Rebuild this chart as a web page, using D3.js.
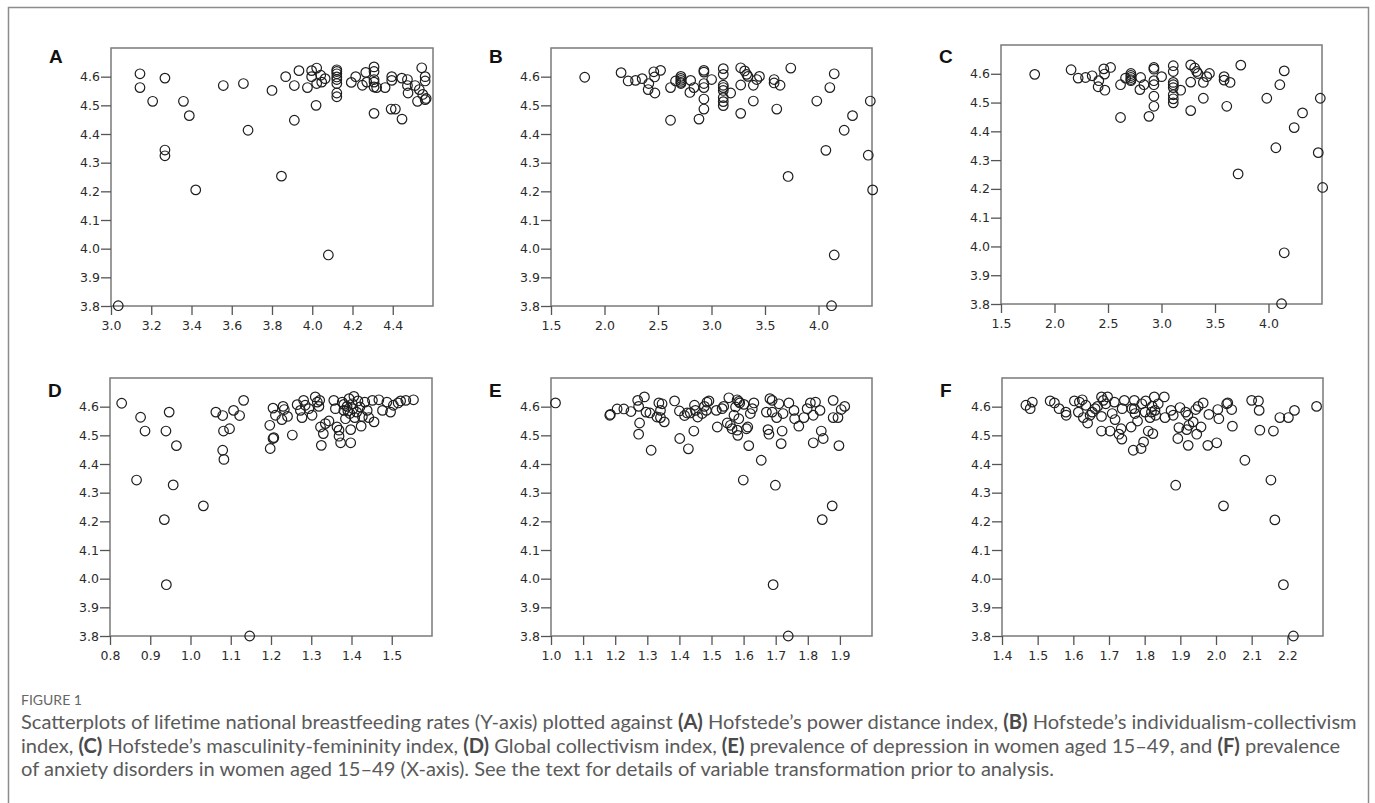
<!DOCTYPE html>
<html>
<head>
<meta charset="utf-8">
<script src="https://cdn.jsdelivr.net/npm/d3@7"></script>
<style>
  body { margin: 0; background: #fff; }
  svg { display: block; }
</style>
</head>
<body>
<script>
// y axis is shared by all six panels (lifetime breastfeeding rate, transformed)
var yDomain = [3.8, 4.7];
var yTicks = [3.8, 3.9, 4.0, 4.1, 4.2, 4.3, 4.4, 4.5, 4.6];

// A: power distance index
var aDomain = [3.0, 4.6];
var aTicks = [3.0, 3.2, 3.4, 3.6, 3.8, 4.0, 4.2, 4.4];
var aX = [3.036, 3.144, 3.144, 3.207, 3.268, 3.268, 3.268, 3.360, 3.389, 3.421,
  3.558, 3.658, 3.681, 3.800, 3.847, 3.868, 3.911, 3.911, 3.934, 3.976,
  3.997, 3.997, 4.022, 4.022, 4.019, 4.042, 4.047, 4.064, 4.080,
  4.122, 4.122, 4.122, 4.122, 4.122, 4.122, 4.122, 4.122,
  4.194, 4.216, 4.249, 4.266, 4.271,
  4.307, 4.307, 4.307, 4.307, 4.307, 4.307,
  4.320, 4.362, 4.395, 4.395, 4.392, 4.413, 4.445, 4.446, 4.473, 4.473,
  4.476, 4.511, 4.523, 4.532, 4.544, 4.549, 4.561, 4.561, 4.561, 4.566];
var aY = [3.801, 4.610, 4.562, 4.514, 4.595, 4.344, 4.324, 4.514, 4.464, 4.205,
  4.569, 4.576, 4.413, 4.552, 4.253, 4.600, 4.569, 4.448, 4.621, 4.562,
  4.621, 4.600, 4.630, 4.576, 4.500, 4.605, 4.581, 4.593, 3.978,
  4.624, 4.618, 4.610, 4.599, 4.590, 4.576, 4.543, 4.530,
  4.580, 4.600, 4.570, 4.615, 4.581,
  4.634, 4.618, 4.590, 4.581, 4.564, 4.472,
  4.562, 4.562, 4.600, 4.587, 4.487, 4.487, 4.595, 4.452, 4.590, 4.569,
  4.543, 4.569, 4.514, 4.555, 4.631, 4.538, 4.600, 4.585, 4.520, 4.524];

// B: individualism-collectivism index
var bDomain = [1.5, 4.5];
var bTicks = [1.5, 2.0, 2.5, 3.0, 3.5, 4.0];
var bX = [1.815, 2.155, 2.221, 2.290, 2.352, 2.408, 2.414, 2.461, 2.468, 2.471,
  2.524, 2.617, 2.617, 2.664, 2.714, 2.714, 2.714, 2.714, 2.714, 2.805,
  2.798, 2.836, 2.883, 2.929, 2.929, 2.929, 2.929, 2.929, 2.929, 3.001,
  3.110, 3.110, 3.110, 3.110, 3.110, 3.110, 3.110, 3.110,
  3.179, 3.273, 3.273, 3.273, 3.310, 3.329, 3.341, 3.391, 3.391, 3.423,
  3.448, 3.585, 3.585, 3.641, 3.610, 3.741, 3.716, 3.984, 4.069, 4.106,
  4.147, 4.147, 4.122, 4.240, 4.318, 4.465, 4.484, 4.506];
var bY = [4.598, 4.614, 4.585, 4.587, 4.593, 4.555, 4.576, 4.617, 4.599, 4.543,
  4.622, 4.562, 4.448, 4.585, 4.601, 4.594, 4.587, 4.580, 4.576, 4.587,
  4.545, 4.562, 4.452, 4.622, 4.616, 4.576, 4.562, 4.522, 4.487, 4.590,
  4.628, 4.608, 4.570, 4.562, 4.552, 4.527, 4.513, 4.499,
  4.543, 4.631, 4.571, 4.472, 4.620, 4.608, 4.601, 4.570, 4.515, 4.590,
  4.601, 4.590, 4.578, 4.570, 4.487, 4.630, 4.252, 4.515, 4.343, 4.562,
  4.610, 3.978, 3.801, 4.413, 4.464, 4.326, 4.515, 4.205];

// C: masculinity-femininity index
var cDomain = [1.5, 4.5];
var cTicks = [1.5, 2.0, 2.5, 3.0, 3.5, 4.0];
var cX = [1.815, 2.155, 2.221, 2.290, 2.352, 2.408, 2.414, 2.461, 2.468, 2.471,
  2.524, 2.617, 2.617, 2.664, 2.714, 2.714, 2.714, 2.714, 2.714, 2.805,
  2.798, 2.836, 2.883, 2.929, 2.929, 2.929, 2.929, 2.929, 2.929, 3.001,
  3.110, 3.110, 3.110, 3.110, 3.110, 3.110, 3.110, 3.110,
  3.179, 3.273, 3.273, 3.273, 3.310, 3.329, 3.341, 3.391, 3.391, 3.423,
  3.448, 3.585, 3.585, 3.641, 3.610, 3.741, 3.716, 3.984, 4.069, 4.106,
  4.147, 4.147, 4.122, 4.240, 4.318, 4.465, 4.484, 4.506];
var cY = [4.598, 4.614, 4.585, 4.587, 4.593, 4.555, 4.576, 4.617, 4.599, 4.543,
  4.622, 4.562, 4.448, 4.585, 4.601, 4.594, 4.587, 4.580, 4.576, 4.587,
  4.545, 4.562, 4.452, 4.622, 4.616, 4.576, 4.562, 4.522, 4.487, 4.590,
  4.628, 4.608, 4.570, 4.562, 4.552, 4.527, 4.513, 4.499,
  4.543, 4.631, 4.571, 4.472, 4.620, 4.608, 4.601, 4.570, 4.515, 4.590,
  4.601, 4.590, 4.578, 4.570, 4.487, 4.630, 4.252, 4.515, 4.343, 4.562,
  4.610, 3.978, 3.801, 4.413, 4.464, 4.326, 4.515, 4.205];

// D: global collectivism index
var dDomain = [0.8, 1.6];
var dTicks = [0.8, 0.9, 1.0, 1.1, 1.2, 1.3, 1.4, 1.5];
var dX = [0.829, 0.866, 0.876, 0.887, 0.935, 0.939, 0.947, 0.940, 0.957, 0.965,
  1.032, 1.063, 1.080, 1.082, 1.080, 1.083, 1.097, 1.107, 1.122, 1.132,
  1.147, 1.197, 1.198, 1.205, 1.207, 1.205, 1.211, 1.227, 1.230, 1.233,
  1.241, 1.253, 1.265, 1.273, 1.277, 1.281, 1.285, 1.294, 1.302, 1.310,
  1.315, 1.319, 1.321, 1.323, 1.325, 1.330, 1.335, 1.344, 1.356, 1.360,
  1.364, 1.369, 1.369, 1.373, 1.377, 1.381, 1.385, 1.389, 1.394, 1.396,
  1.398, 1.398, 1.402, 1.404, 1.406, 1.408, 1.413, 1.416, 1.421, 1.424,
  1.427, 1.433, 1.439, 1.443, 1.452, 1.456, 1.468, 1.477, 1.488, 1.497,
  1.504, 1.516, 1.522, 1.535, 1.554, 1.381, 1.391];
var dY = [4.612, 4.344, 4.563, 4.515, 4.206, 4.515, 4.581, 3.979, 4.327, 4.464,
  4.254, 4.581, 4.569, 4.515, 4.448, 4.416, 4.523, 4.587, 4.569, 4.622,
  3.800, 4.535, 4.454, 4.489, 4.492, 4.595, 4.570, 4.555, 4.601, 4.590,
  4.566, 4.501, 4.607, 4.587, 4.562, 4.622, 4.605, 4.593, 4.570, 4.634,
  4.616, 4.601, 4.622, 4.529, 4.465, 4.506, 4.541, 4.550, 4.622, 4.593,
  4.529, 4.518, 4.497, 4.474, 4.616, 4.587, 4.558, 4.601, 4.628, 4.576,
  4.520, 4.474, 4.610, 4.593, 4.636, 4.562, 4.581, 4.620, 4.599, 4.532,
  4.566, 4.616, 4.587, 4.562, 4.622, 4.547, 4.624, 4.587, 4.616, 4.581,
  4.605, 4.613, 4.620, 4.622, 4.624, 4.608, 4.585];

// E: depression prevalence, women 15-49
var eDomain = [1.0, 2.0];
var eTicks = [1.0, 1.1, 1.2, 1.3, 1.4, 1.5, 1.6, 1.7, 1.8, 1.9];
var eX = [1.014, 1.185, 1.183, 1.206, 1.227, 1.249, 1.270, 1.273, 1.276, 1.273,
  1.291, 1.296, 1.308, 1.312, 1.336, 1.341, 1.341, 1.346, 1.353, 1.385,
  1.400, 1.401, 1.416, 1.428, 1.434, 1.445, 1.447, 1.450, 1.457, 1.471,
  1.478, 1.484, 1.486, 1.492, 1.515, 1.518, 1.533, 1.538, 1.549, 1.554,
  1.559, 1.564, 1.570, 1.575, 1.580, 1.585, 1.588, 1.580, 1.582, 1.585,
  1.599, 1.601, 1.609, 1.613, 1.616, 1.621, 1.627, 1.632, 1.655, 1.671,
  1.676, 1.679, 1.682, 1.689, 1.699, 1.692, 1.703, 1.710, 1.717, 1.720,
  1.723, 1.739, 1.741, 1.757, 1.759, 1.772, 1.788, 1.798, 1.808, 1.817,
  1.817, 1.824, 1.838, 1.842, 1.848, 1.845, 1.876, 1.879, 1.879, 1.894,
  1.897, 1.904, 1.915, 1.689, 1.424, 1.330];
var eY = [4.613, 4.573, 4.570, 4.592, 4.592, 4.583, 4.622, 4.601, 4.543, 4.504,
  4.634, 4.581, 4.578, 4.448, 4.613, 4.587, 4.562, 4.610, 4.547, 4.620,
  4.585, 4.489, 4.569, 4.453, 4.578, 4.515, 4.605, 4.587, 4.564, 4.576,
  4.601, 4.587, 4.616, 4.620, 4.587, 4.529, 4.593, 4.601, 4.543, 4.631,
  4.535, 4.523, 4.570, 4.599, 4.624, 4.618, 4.613, 4.518, 4.500, 4.558,
  4.344, 4.608, 4.523, 4.529, 4.464, 4.576, 4.593, 4.613, 4.413, 4.581,
  4.520, 4.504, 4.628, 4.622, 4.326, 3.979, 4.562, 4.610, 4.471, 4.515,
  4.576, 3.800, 4.613, 4.587, 4.558, 4.532, 4.562, 4.593, 4.613, 4.570,
  4.474, 4.616, 4.587, 4.515, 4.489, 4.206, 4.254, 4.622, 4.562, 4.562,
  4.464, 4.590, 4.601, 4.581, 4.578, 4.564];

// F: anxiety disorder prevalence, women 15-49
var fDomain = [1.4, 2.3];
var fTicks = [1.4, 1.5, 1.6, 1.7, 1.8, 1.9, 2.0, 2.1, 2.2];
var fX = [1.467, 1.479, 1.485, 1.535, 1.547, 1.560, 1.579, 1.580, 1.603, 1.614,
  1.617, 1.625, 1.628, 1.635, 1.640, 1.647, 1.653, 1.661, 1.668, 1.679,
  1.679, 1.684, 1.691, 1.696, 1.679, 1.703, 1.709, 1.715, 1.717, 1.728,
  1.734, 1.736, 1.737, 1.743, 1.762, 1.764, 1.768, 1.771, 1.773, 1.780,
  1.790, 1.792, 1.797, 1.801, 1.803, 1.810, 1.815, 1.821, 1.823, 1.827,
  1.829, 1.831, 1.838, 1.855, 1.857, 1.874, 1.880, 1.887, 1.893, 1.896,
  1.899, 1.915, 1.918, 1.921, 1.922, 1.924, 1.936, 1.943, 1.946, 1.950,
  1.958, 1.964, 1.977, 1.980, 2.002, 2.005, 2.008, 2.021, 2.030, 2.033,
  2.044, 2.046, 2.081, 2.100, 2.119, 2.121, 2.123, 2.154, 2.161, 2.165,
  2.179, 2.189, 2.203, 2.217, 2.220, 2.282, 1.771, 1.819];
var fY = [4.605, 4.593, 4.616, 4.620, 4.613, 4.593, 4.581, 4.570, 4.620, 4.581,
  4.616, 4.624, 4.562, 4.605, 4.543, 4.570, 4.581, 4.593, 4.601, 4.634,
  4.566, 4.622, 4.610, 4.634, 4.515, 4.515, 4.576, 4.616, 4.555, 4.504,
  4.523, 4.487, 4.593, 4.622, 4.529, 4.593, 4.448, 4.622, 4.576, 4.550,
  4.454, 4.610, 4.477, 4.581, 4.620, 4.515, 4.562, 4.601, 4.506, 4.634,
  4.587, 4.570, 4.610, 4.634, 4.562, 4.587, 4.570, 4.326, 4.489, 4.527,
  4.597, 4.581, 4.520, 4.570, 4.465, 4.535, 4.547, 4.590, 4.504, 4.601,
  4.529, 4.613, 4.465, 4.573, 4.474, 4.590, 4.558, 4.254, 4.610, 4.613,
  4.590, 4.532, 4.413, 4.622, 4.620, 4.587, 4.518, 4.344, 4.515, 4.205,
  4.562, 3.979, 4.562, 3.800, 4.587, 4.601, 4.593, 4.581];

var panelLabels = ["A", "B", "C", "D", "E", "F"];

var W = 1375, H = 803;

// plot frames [left, top, right, bottom]
var panels = [
  {xs: aX, ys: aY, dom: aDomain, ticks: aTicks, box: [111, 48, 433, 306]},
  {xs: bX, ys: bY, dom: bDomain, ticks: bTicks, box: [551, 48, 872, 306]},
  {xs: cX, ys: cY, dom: cDomain, ticks: cTicks, box: [1001, 45, 1322, 304]},
  {xs: dX, ys: dY, dom: dDomain, ticks: dTicks, box: [110, 378, 432, 636]},
  {xs: eX, ys: eY, dom: eDomain, ticks: eTicks, box: [551, 378, 872, 636]},
  {xs: fX, ys: fY, dom: fDomain, ticks: fTicks, box: [1002, 378, 1323, 636]}
];

var svg = d3.select("body").append("svg")
    .attr("width", W)
    .attr("height", H);

// outer figure border (runs off the bottom of the picture)
svg.append("rect")
    .attr("x", 8.5).attr("y", 7.5)
    .attr("width", 1360).attr("height", 830)
    .attr("fill", "none")
    .attr("stroke", "#8c8c8c")
    .attr("stroke-width", 1.5);

var fmt = d3.format(".1f");

panels.forEach(function(p, i) {
  var b = p.box;
  var x = d3.scaleLinear().domain(p.dom).range([b[0], b[2]]);
  var y = d3.scaleLinear().domain(yDomain).range([b[3], b[1]]);

  var g = svg.append("g");

  // frame
  g.append("rect")
      .attr("x", b[0]).attr("y", b[1])
      .attr("width", b[2] - b[0]).attr("height", b[3] - b[1])
      .attr("fill", "none")
      .attr("stroke", "#7a7a7a")
      .attr("stroke-width", 1.5);

  // axis-y
  var ya = g.append("g")
      .attr("transform", "translate(" + b[0] + ",0)")
      .call(d3.axisLeft(y).tickValues(yTicks).tickFormat(fmt).tickSize(10).tickPadding(1));

  // axis-x
  var xa = g.append("g")
      .attr("transform", "translate(0," + b[3] + ")")
      .call(d3.axisBottom(x).tickValues(p.ticks).tickFormat(fmt).tickSize(9).tickPadding(6));

  [ya, xa].forEach(function(a) {
    a.select(".domain").remove();
    a.selectAll("line").attr("stroke", "#555").attr("stroke-width", 1.3);
    a.selectAll("text")
        .attr("fill", "#2b2b2b")
        .attr("font-family", "'DejaVu Sans', Verdana, sans-serif")
        .attr("font-size", "12.5px");
  });

  // points
  g.selectAll("circle")
    .data(p.xs.map(function(v, k) { return [v, p.ys[k]]; }))
    .enter().append("circle")
      .attr("cx", function(d) { return x(d[0]); })
      .attr("cy", function(d) { return y(d[1]); })
      .attr("r", 4.8)
      .attr("fill", "none")
      .attr("stroke", "#1e1e1e")
      .attr("stroke-width", 1.2);

  // panel letter
  svg.append("text")
      .attr("x", b[0] - 62)
      .attr("y", i < 3 ? 63 : 397)
      .attr("font-family", "'Liberation Sans', Arial, sans-serif")
      .attr("font-weight", "bold")
      .attr("font-size", "19px")
      .attr("fill", "#111")
      .text(panelLabels[i]);
});

// caption
svg.append("text")
    .attr("x", 21).attr("y", 705)
    .attr("font-family", "Lato, sans-serif")
    .attr("font-size", "14px")
    .attr("fill", "#666")
    .text("FIGURE 1");

var captionLines = [
  [["Scatterplots of lifetime national breastfeeding rates (Y-axis) plotted against ", 0], ["(A)", 1],
   [" Hofstede’s power distance index, ", 0], ["(B)", 1], [" Hofstede’s individualism-collectivism", 0]],
  [["index, ", 0], ["(C)", 1], [" Hofstede’s masculinity-femininity index, ", 0], ["(D)", 1],
   [" Global collectivism index, ", 0], ["(E)", 1], [" prevalence of depression in women aged 15–49, and ", 0],
   ["(F)", 1], [" prevalence", 0]],
  [["of anxiety disorders in women aged 15–49 (X-axis). See the text for details of variable transformation prior to analysis.", 0]]
];

var cap = svg.append("g")
    .attr("font-family", "Lato, sans-serif")
    .attr("font-size", "17px")
    .attr("fill", "#5a5a5a");

var capText = cap.selectAll("text")
  .data(captionLines)
  .enter().append("text")
    .attr("x", 21)
    .attr("y", function(d, i) { return 729 + i * 23.5; });

capText.selectAll("tspan")
  .data(function(d) { return d; })
  .enter().append("tspan")
    .attr("font-weight", function(d) { return d[1] ? "bold" : null; })
    .attr("fill", function(d) { return d[1] ? "#4a4a4a" : null; })
    .text(function(d) { return d[0]; });

// fit the first caption line to the printed width
var w0 = capText.node().getComputedTextLength();
cap.attr("font-size", (17 * 1336 / w0).toFixed(2) + "px");
</script>
</body>
</html>
